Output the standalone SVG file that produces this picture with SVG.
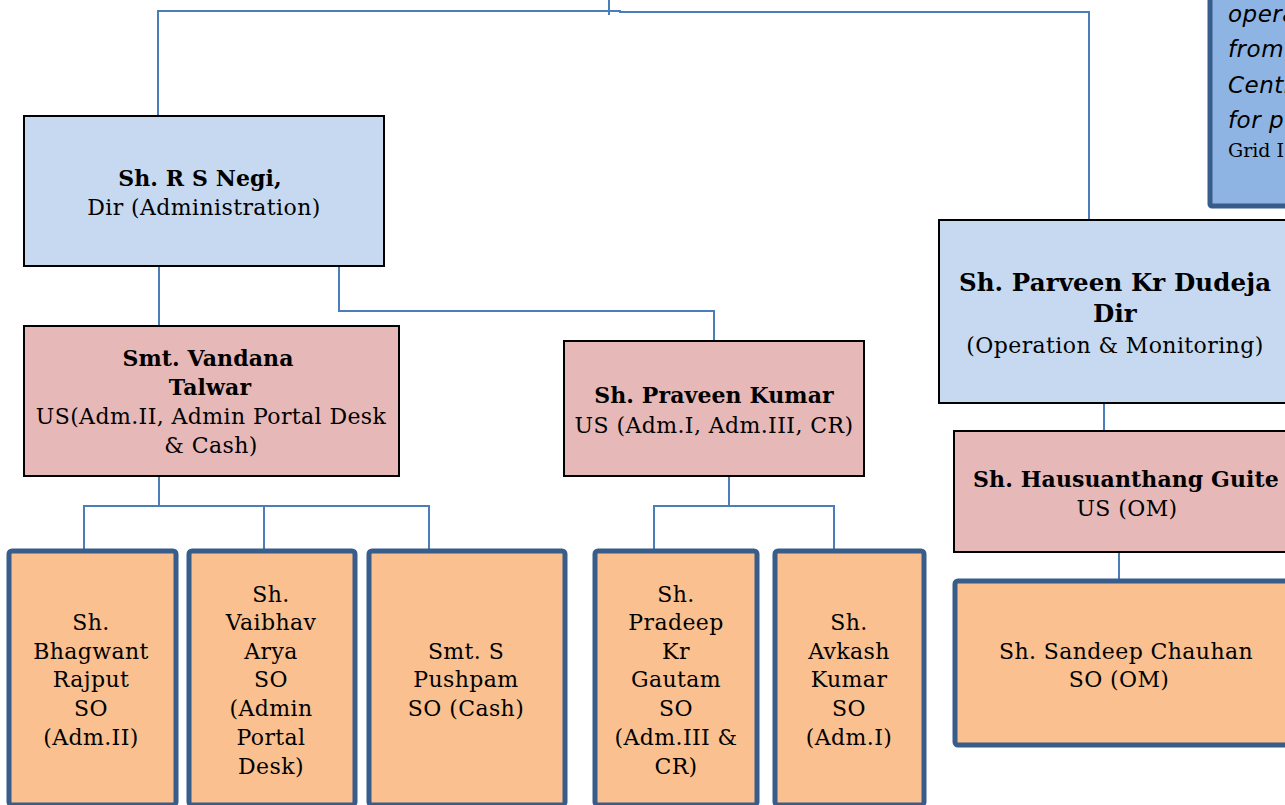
<svg xmlns="http://www.w3.org/2000/svg" width="1285" height="805" viewBox="0 0 1285 805">
<style>
.dir{fill:#c6d9f0;stroke:#000;stroke-width:2}
.us{fill:#e6b8b7;stroke:#000;stroke-width:2}
.so{fill:#fac090;stroke:#385d8a;stroke-width:5}
.note{fill:#8eb4e3;stroke:#385d8a;stroke-width:5}
text{font-family:"DejaVu Serif","Liberation Serif",serif;font-size:22px;fill:#000;text-anchor:middle;letter-spacing:0.4px}
.b{font-weight:bold;letter-spacing:0.1px}
.big{font-size:24.5px}
.it{font-family:"DejaVu Sans","Liberation Sans",sans-serif;font-style:italic;font-size:23px;text-anchor:start;letter-spacing:0.5px}
.sm{font-size:19px;text-anchor:start;letter-spacing:0}
.c{fill:none;stroke:#4a7ebb;stroke-width:2}
</style>
<rect width="1285" height="805" fill="#fff"/>
<g id="connectors">
<path class="c" d="M609 0V15"/>
<path class="c" d="M158 116V11H620V12H1089V220"/>
<path class="c" d="M159 266V326"/>
<path class="c" d="M339 266V311H714V341"/>
<path class="c" d="M159 476V506M84 550V506H429V550M264 506V550"/>
<path class="c" d="M729 476V506M654 550V506H834V550"/>
<path class="c" d="M1104 403V431"/>
<path class="c" d="M1119 552V580"/>
</g>
<g id="note">
<rect class="note" x="1210" y="-10" width="100" height="216" rx="2"/>
<text class="it" x="1228" y="22">opera</text>
<text class="it" x="1228" y="57">from</text>
<text class="it" x="1228" y="93">Centr</text>
<text class="it" x="1228" y="128">for p</text>
<text class="sm" x="1228" y="157">Grid I</text>
</g>
<g id="negi">
<rect class="dir" x="24" y="116" width="360" height="150"/>
<text class="b" x="200" y="186">Sh. R S Negi,</text>
<text x="204" y="215">Dir (Administration)</text>
</g>
<g id="dudeja">
<rect class="dir" x="939" y="220" width="360" height="183"/>
<text class="b big" x="1115" y="291">Sh. Parveen Kr Dudeja</text>
<text class="b big" x="1115" y="322">Dir</text>
<text x="1115" y="353">(Operation &amp; Monitoring)</text>
</g>
<g id="vandana">
<rect class="us" x="24" y="326" width="375" height="150"/>
<text class="b" x="208" y="366">Smt. Vandana</text>
<text class="b" x="210" y="395">Talwar</text>
<text x="211" y="424">US(Adm.II, Admin Portal Desk</text>
<text x="211" y="453">&amp; Cash)</text>
</g>
<g id="praveen">
<rect class="us" x="564" y="341" width="300" height="135"/>
<text class="b" x="714" y="403">Sh. Praveen Kumar</text>
<text x="714" y="433">US (Adm.I, Adm.III, CR)</text>
</g>
<g id="guite">
<rect class="us" x="954" y="431" width="340" height="121"/>
<text class="b" x="1126" y="487">Sh. Hausuanthang Guite</text>
<text x="1127" y="516">US (OM)</text>
</g>
<g id="bhagwant">
<rect class="so" x="9" y="551" width="167" height="254" rx="3"/>
<text x="91" y="630">Sh.</text>
<text x="91" y="659">Bhagwant</text>
<text x="91" y="687">Rajput</text>
<text x="91" y="716">SO</text>
<text x="91" y="745">(Adm.II)</text>
</g>
<g id="vaibhav">
<rect class="so" x="189" y="551" width="166" height="254" rx="3"/>
<text x="271" y="602">Sh.</text>
<text x="271" y="630">Vaibhav</text>
<text x="271" y="659">Arya</text>
<text x="271" y="687">SO</text>
<text x="271" y="716">(Admin</text>
<text x="271" y="745">Portal</text>
<text x="271" y="774">Desk)</text>
</g>
<g id="pushpam">
<rect class="so" x="369" y="551" width="196" height="254" rx="3"/>
<text x="466" y="659">Smt. S</text>
<text x="466" y="687">Pushpam</text>
<text x="466" y="716">SO (Cash)</text>
</g>
<g id="pradeep">
<rect class="so" x="595" y="551" width="162" height="254" rx="3"/>
<text x="676" y="602">Sh.</text>
<text x="676" y="630">Pradeep</text>
<text x="676" y="659">Kr</text>
<text x="676" y="687">Gautam</text>
<text x="676" y="716">SO</text>
<text x="676" y="745">(Adm.III &amp;</text>
<text x="676" y="774">CR)</text>
</g>
<g id="avkash">
<rect class="so" x="775" y="551" width="149" height="254" rx="3"/>
<text x="849" y="630">Sh.</text>
<text x="849" y="659">Avkash</text>
<text x="849" y="687">Kumar</text>
<text x="849" y="716">SO</text>
<text x="849" y="745">(Adm.I)</text>
</g>
<g id="sandeep">
<rect class="so" x="955" y="581" width="345" height="164" rx="3"/>
<text x="1126" y="659">Sh. Sandeep Chauhan</text>
<text x="1119" y="687">SO (OM)</text>
</g>
</svg>
